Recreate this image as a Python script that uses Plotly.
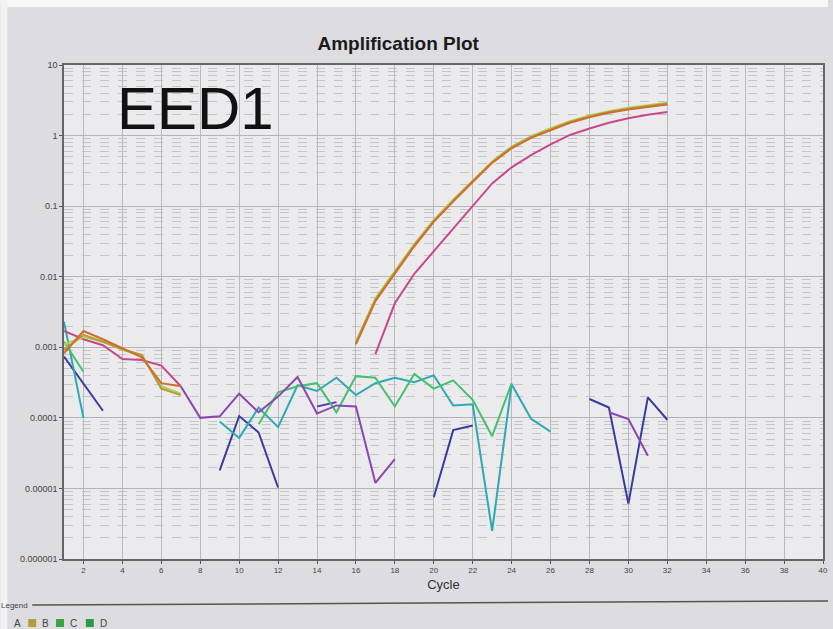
import plotly.graph_objects as go

# ---- data: normalised fluorescence per cycle (None = no value on log scale) ----
cycles = list(range(1, 33))
N = None

well_orange = [0.00082, 0.0017, 0.0013, 0.00098, 0.00072, 0.00031, 0.00028,
               N, N, N, N, N, N, N, N,
               0.0011, 0.0045, 0.011, 0.027, 0.060, 0.117, 0.22, 0.41, 0.66,
               0.93, 1.19, 1.52, 1.82, 2.10, 2.34, 2.55, 2.75]
well_olive = [0.00092, 0.0015, 0.0012, 0.00094, 0.00078, 0.00026, 0.00021,
              N, N, N, N, N, N, N, N,
              0.00115, 0.0047, 0.0115, 0.028, 0.062, 0.120, 0.225, 0.42, 0.68,
              0.95, 1.23, 1.56, 1.87, 2.16, 2.40, 2.62, 2.84]
well_lime = [0.0011, 0.0014, 0.0012, 0.00092, 0.00075, 0.00028, 0.00022,
             N, N, N, N, N, N, N, N,
             0.0012, 0.0049, 0.012, 0.029, 0.064, 0.124, 0.23, 0.43, 0.70,
             0.98, 1.27, 1.60, 1.92, 2.22, 2.47, 2.70, 2.93]
well_pink = [0.0017, 0.0013, 0.00107, 0.00068, 0.00066, 0.00055, 0.00028,
             N, N, N, N, N, N, N, N, N,
             0.0008, 0.0042, 0.011, 0.023, 0.048, 0.10, 0.21, 0.355,
             0.53, 0.75, 1.02, 1.26, 1.52, 1.76, 1.97, 2.15]
well_purple = [N, N, N, N, N, N, 0.00028, 0.0001, 0.000105, 0.00022, 0.00012,
               0.0002, 0.00038, 0.000115, 0.00015, 0.000145, 0.000012, 0.000026,
               N, N, N, N, N, N, N, N, N, N,
               0.00012, 0.000096, 0.000029, N]
well_navy = [0.00074, 0.0003, 0.000126, N, N, N, N, N,
             0.000018, 0.000106, 0.000062, 0.0000103,
             N, N, N, N, N, N, N,
             0.0000075, 0.000067, 0.000078,
             N, N, N, N, N,
             0.000185, 0.00014, 0.0000061, 0.000195, 0.000094]
well_indigo = [N, N, N, N, N, N, N, N, N, N, N, N, N,
               0.000145, 0.000167,
               N, N, N, N, N, N, N, N, N, N, N, N, N, N, N, N, N]
well_teal = [0.0023, 0.0001, N, N, N, N, N, N,
             0.000089, 0.000052, 0.00014, 0.000074, 0.00029, 0.00024, 0.00037,
             0.00021, 0.00031, 0.00037, 0.00032, 0.0004, 0.00015, 0.000156,
             0.0000025, 0.0003, 0.000097, 0.000064,
             N, N, N, N, N, N]
well_green = [0.0012, 0.00045, N, N, N, N, N, N, N, N,
              0.000081, 0.00023, 0.00028, 0.00031, 0.00012, 0.00039, 0.00037,
              0.000145, 0.00042, 0.00026, 0.00034, 0.00018, 0.000055, 0.00031,
              N, N, N, N, N, N, N, N]

series = [
    ("navy", well_navy, "#3b3b9e"),
    ("indigo", well_indigo, "#5a3fae"),
    ("teal", well_teal, "#2ea9b3"),
    ("green", well_green, "#45c06e"),
    ("purple", well_purple, "#8a46b2"),
    ("pink", well_pink, "#c8488e"),
    ("lime", well_lime, "#b9cf52"),
    ("olive", well_olive, "#b39c3c"),
    ("orange", well_orange, "#cf6f2e"),
]

x_ticks = list(range(2, 42, 2))
y_ticks = [1e-6, 1e-5, 1e-4, 1e-3, 1e-2, 1e-1, 1, 10]
y_ticktext = ["0.000001", "0.00001", "0.0001", "0.001", "0.01", "0.1", "1", "10"]

legend_labels = ["A", "B", "C", "D"]
legend_colors = [None, "#b39c3c", "#3da244", "#2f9a4a"]

FONT = "Liberation Sans, Arial, sans-serif"

# plot box in pixels
L, R, T, B = 64, 828, 65, 559
PW, PH = R - L, B - T


def px(x):
    return (x - L) / PW


def py(y):
    return (B - y) / PH


fig = go.Figure()
for name, vals, color in series:
    fig.add_trace(go.Scatter(
        x=cycles, y=vals, mode="lines", name=name,
        line=dict(color=color, width=2),
        connectgaps=False, showlegend=False,
    ))

# minor log grid lines (2..9 within each decade)
minor_vals = [m * 10.0 ** e for e in range(-6, 1) for m in range(2, 10)]

fig.update_layout(
    width=833, height=629,
    margin=dict(l=L, r=833 - R, t=T, b=629 - B),
    paper_bgcolor="#dddce0",
    plot_bgcolor="#ebebed",
    font=dict(family=FONT, color="#333333"),
    title=dict(text="<b>Amplification Plot</b>", x=0.478, xanchor="center",
               y=1 - 43 / 629, yanchor="middle", yref="container",
               font=dict(size=19, color="#1a1a1a", family=FONT)),
    xaxis=dict(
        range=[1, 40], tickmode="array", tickvals=x_ticks,
        ticks="outside", ticklen=3, tickcolor="#555",
        tickfont=dict(size=8, color="#444"),
        showgrid=True, gridcolor="#b9babe", gridwidth=1,
        showline=True, linecolor="#666", linewidth=1.5, mirror=True,
        zeroline=False,
        title=dict(text="Cycle", font=dict(size=13, color="#333"), standoff=6),
    ),
    yaxis=dict(
        type="log", range=[-6, 1], tickmode="array",
        tickvals=y_ticks, ticktext=y_ticktext,
        ticks="outside", ticklen=3, tickcolor="#555",
        tickfont=dict(size=9, color="#444"),
        showgrid=True, gridcolor="#b3b4b8", gridwidth=1,
        showline=True, linecolor="#666", linewidth=1.5, mirror=True,
        zeroline=False,
        minor=dict(tickmode="array", tickvals=minor_vals, showgrid=True,
                   gridcolor="#c4c5c9", griddash="dash", gridwidth=1,
                   ticks=""),
    ),
)

# white photo border along the top and left edges
fig.add_shape(type="rect", xref="paper", yref="paper",
              x0=px(0), x1=px(833), y0=py(0), y1=py(7), layer="above",
              fillcolor="#f7f7f7", line=dict(width=0))
fig.add_shape(type="rect", xref="paper", yref="paper",
              x0=px(0), x1=px(7), y0=py(0), y1=py(629), layer="above",
              fillcolor="#f2f2f2", line=dict(width=0))

# big gene label inside the plot
fig.add_annotation(text="EED1", xref="paper", yref="paper",
                   x=px(196), y=py(108),
                   xanchor="center", yanchor="middle", showarrow=False,
                   font=dict(size=60, color="#111111", family=FONT))

# legend strip at the bottom
fig.add_shape(type="line", xref="paper", yref="paper",
              x0=px(32), x1=px(833), y0=py(605), y1=py(601),
              line=dict(color="#555", width=1.5))
fig.add_annotation(text="Legend", xref="paper", yref="paper",
                   x=px(30), y=py(605),
                   xanchor="right", yanchor="middle", showarrow=False,
                   font=dict(size=8, color="#444", family=FONT))
leg_x = [12, 40, 68, 98]
for i, (lab, col) in enumerate(zip(legend_labels, legend_colors)):
    lx = leg_x[i]
    if col is not None:
        fig.add_shape(type="rect", xref="paper", yref="paper",
                      x0=px(lx - 12), x1=px(lx - 4),
                      y0=py(627), y1=py(619),
                      fillcolor=col, line=dict(width=0))
    fig.add_annotation(text=lab, xref="paper", yref="paper",
                       x=px(lx), y=py(623),
                       xanchor="left", yanchor="middle", showarrow=False,
                       font=dict(size=10, color="#444", family=FONT))

fig.write_html("out.html", include_plotlyjs=True)
